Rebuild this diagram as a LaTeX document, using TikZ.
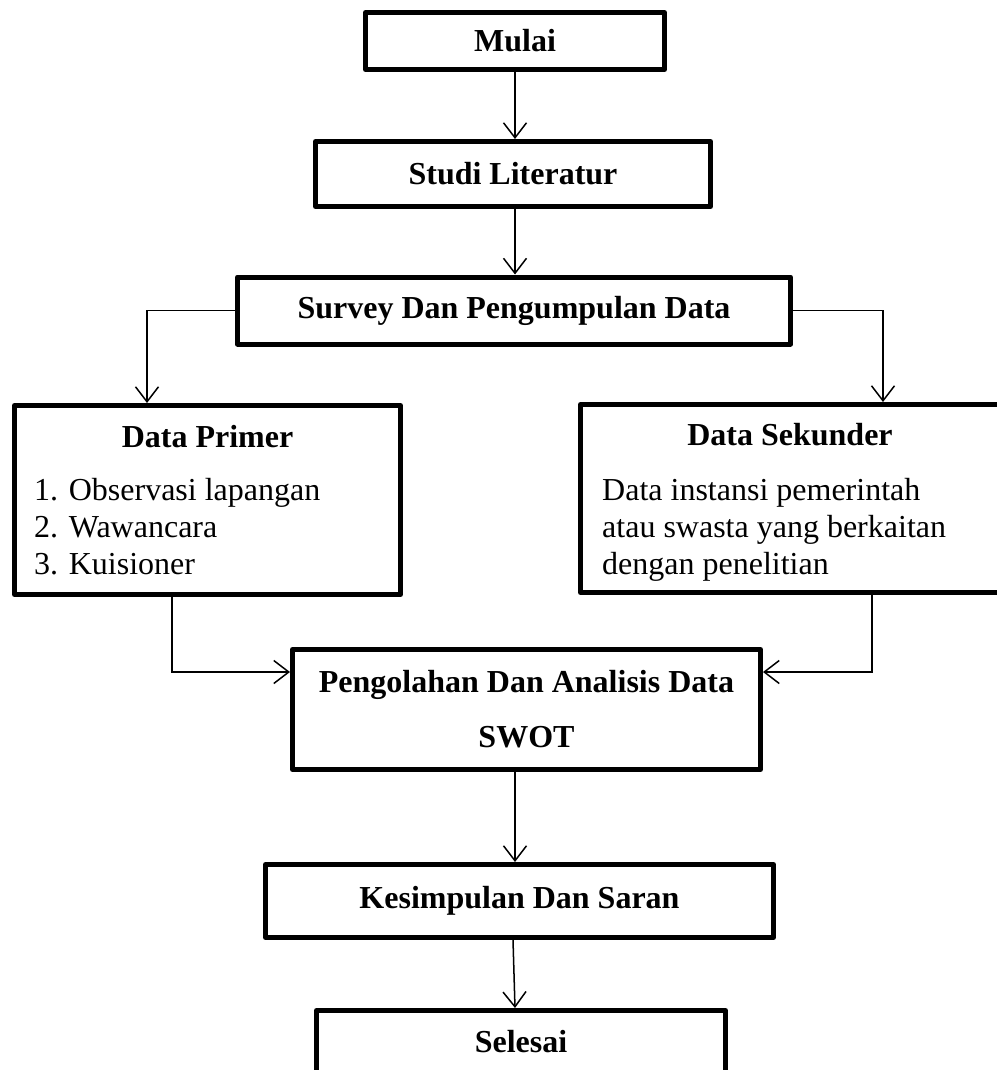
\documentclass[tikz,border=0pt]{standalone}
\usepackage{fontspec}
\setmainfont{Liberation Serif}
\usetikzlibrary{arrows.meta}
\begin{document}
\begin{tikzpicture}[x=1pt,y=-1pt,
  box/.style={draw, line width=5pt, line join=round, rectangle, inner sep=0pt,
    font=\fontsize{32}{37}\selectfont\bfseries},
  ttl/.style={font=\fontsize{32}{37}\selectfont\bfseries, inner sep=0pt},
  body/.style={font=\fontsize{32}{37}\selectfont, align=left, inner sep=0pt},
  arr/.style={line width=1.5pt, -{Straight Barb[length=15pt,width=23pt,line width=1.5pt]}}]
\useasboundingbox (0,0) rectangle (996,1070);

\node[box, minimum width=299pt, minimum height=57pt] (mulai) at (515,41) {Mulai};
\node[box, minimum width=395pt, minimum height=65pt] (studi) at (513,174) {Studi Literatur};
\node[box, minimum width=553pt, minimum height=67pt] (survey) at (514,310.5) {Survey Dan Pengumpulan Data};
\node[box, minimum width=386pt, minimum height=189pt] (primer) at (207.5,500) {};
\node[box, minimum width=419pt, minimum height=188pt] (sekunder) at (790,498.5) {};
\node[box, minimum width=468pt, minimum height=120pt, align=center] (olah) at (526.5,709.5)
  {Pengolahan Dan Analisis Data\\[18pt]SWOT};
\node[box, minimum width=508pt, minimum height=73pt] (kesimpulan) at (519.5,901) {Kesimpulan Dan Saran};
\node[box, minimum width=409pt, minimum height=73pt, text depth=12pt] (selesai) at (521,1047) {Selesai};

\node[ttl] (primerT) at (207.5,437) {Data Primer};
\node[ttl] (sekT) at (790,435) {Data Sekunder};
\node[body, anchor=north west] (primerB) at (34,478)
  {1. Observasi lapangan\\2. Wawancara\\3. Kuisioner};
\node[body, anchor=north west] (sekB) at (602,478)
  {Data instansi pemerintah\\atau swasta yang berkaitan\\dengan penelitian};

\draw[arr] (mulai.south) -- (mulai.south |- studi.north);
\draw[arr] (mulai.south |- studi.south) -- (mulai.south |- survey.north);
\draw[arr] (survey.west) -| ([xshift=-60.5pt]primer.north);
\draw[arr] (survey.east) -| ([xshift=93pt]sekunder.north);
\draw[arr] ([xshift=-35.5pt]primer.south) |- ([yshift=37.5pt]olah.west);
\draw[arr] ([xshift=82pt]sekunder.south) |- ([yshift=37.5pt]olah.east);
\draw[arr] (mulai.south |- olah.south) -- (mulai.south |- kesimpulan.north);
\draw[arr] ([xshift=-2pt]mulai.south |- kesimpulan.south) -- (mulai.south |- selesai.north);
\end{tikzpicture}
\end{document}
